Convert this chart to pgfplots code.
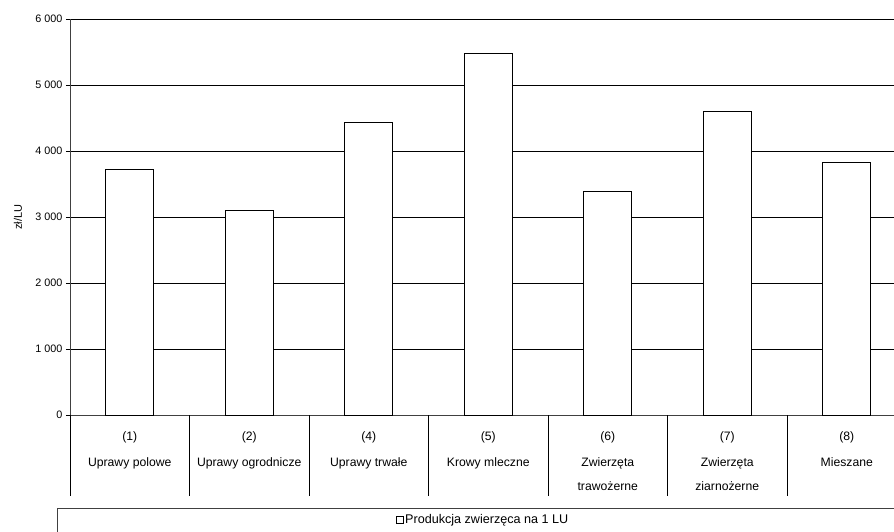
\documentclass[border=0pt]{standalone}
\usepackage{pgfplots}
\pgfplotsset{compat=1.18}
\usepackage{fontspec}
\setmainfont{Liberation Sans}
\begin{document}
\begin{tikzpicture}
\begin{axis}[
  name=ax,
  at={(0,0)}, anchor=south west,
  scale only axis,
  width=836.5pt, height=396pt,
  xmin=-0.5, xmax=6.5,
  ymin=0, ymax=6000,
  ytick={0,1000,...,6000},
  xtick={0,...,6},
  xticklabels={{(1)\\[1pt]Uprawy polowe},{(2)\\[1pt]Uprawy ogrodnicze},{(4)\\[1pt]Uprawy trwałe},{(5)\\[1pt]Krowy mleczne},{(6)\\[1pt]Zwierzęta\\trawożerne},{(7)\\[1pt]Zwierzęta\\ziarnożerne},{(8)\\[1pt]Mieszane}},
  xticklabel style={font=\fontsize{12.2}{24.5}\selectfont, align=center, anchor=north, yshift=-9.5pt},
  x tick style={draw=none},
  yticklabel style={font=\fontsize{10.8}{12}\selectfont},
  /pgf/number format/assume math mode=true,
  /pgf/number format/1000 sep={\ },
  scaled y ticks=false,
  axis lines=left,
  axis line style={-, black!75, line width=0.9pt},
  y tick style={black, line width=0.7pt},
  tick align=outside,
  major tick length=4pt,
  ymajorgrids,
  grid style={black, line width=0.7pt},
  ylabel={zł/LU},
  ylabel style={at={(axis description cs:-0.0622,0.5)}, anchor=center, font=\fontsize{11}{13}\selectfont},
  ybar, bar width=0.4,
  legend style={at={(axis description cs:0.4937,-0.2652)}, anchor=center, draw=none, fill=none, font=\fontsize{12.6}{14}\selectfont, inner sep=0pt},
  legend image code/.code={\draw[black, fill=white, line width=0.6pt] (0pt,-3.5pt) rectangle (7pt,3.5pt);},
  clip=false,
]
\addplot[draw=black, fill=white, line width=0.8pt] coordinates {(0,3725) (1,3095) (2,4435) (3,5475) (4,3390) (5,4595) (6,3825)};
\addlegendentry{Produkcja zwierzęca na 1 LU}
\foreach \k in {-0.5,0.5,1.5,2.5,3.5,4.5,5.5,6.5}{
  \edef\tmp{\noexpand\draw[black, line width=0.8pt] (axis cs:\k,0) -- ++(0pt,-81pt);}
  \tmp
}
\end{axis}
\draw[black!75, line width=0.9pt] ([shift={(-13pt,-93pt)}]ax.south west) rectangle ([shift={(839pt,-130pt)}]ax.south west);
\pgfresetboundingbox
\path ([shift={(-70pt,-116pt)}]ax.south west) rectangle ([shift={(824pt,415pt)}]ax.south west);
\end{tikzpicture}
\end{document}
